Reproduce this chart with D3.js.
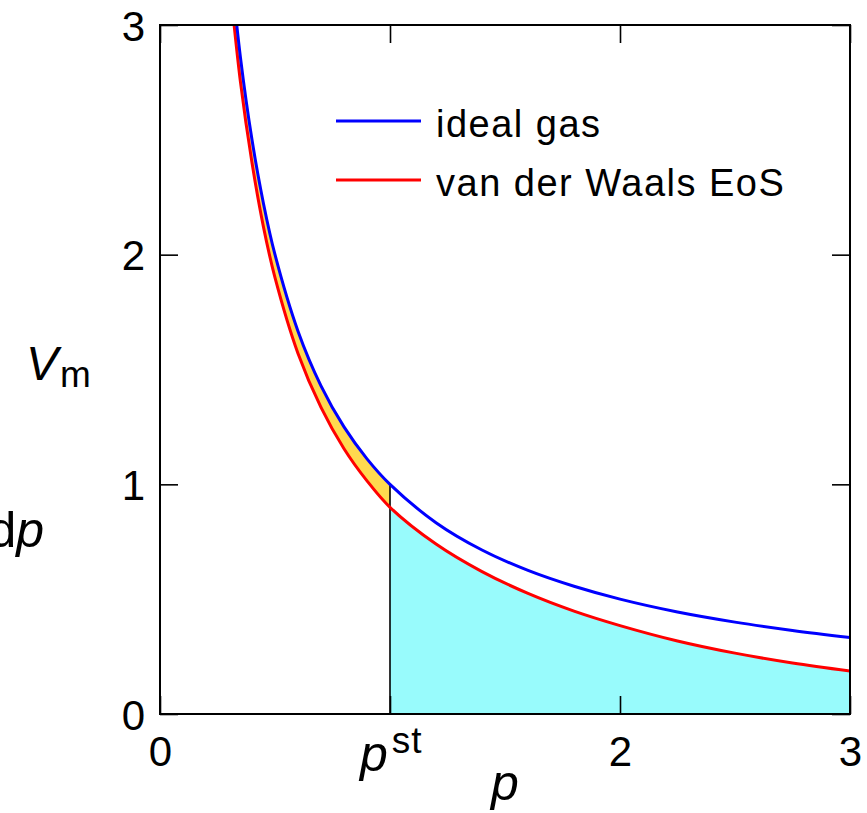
<!DOCTYPE html>
<html>
<head>
<meta charset="utf-8">
<script src="https://cdn.jsdelivr.net/npm/d3@7"></script>
<style>
  body { margin: 0; background: #fff; }
  text { font-family: "Liberation Sans", Arial, sans-serif; fill: #000; }
</style>
</head>
<body>
<div id="graph"></div>
<script>
// pressure samples (shared by both curves)
var pressure = [0.3, 0.35, 0.4, 0.45, 0.5, 0.6, 0.7, 0.8, 0.9, 1.0, 1.2, 1.4, 1.6, 1.8, 2.0, 2.25, 2.5, 2.75, 3.0];
// molar volume, ideal gas
var idealGas = [3.33, 2.857, 2.5, 2.222, 2.0, 1.667, 1.429, 1.25, 1.111, 1.0, 0.833, 0.714, 0.625, 0.556, 0.5, 0.444, 0.4, 0.364, 0.333];
// molar volume, van der Waals EoS
var vanDerWaals = [3.22, 2.75, 2.4, 2.12, 1.9, 1.57, 1.335, 1.155, 1.015, 0.9, 0.74, 0.62, 0.525, 0.448, 0.385, 0.318, 0.265, 0.222, 0.187];

var pStandard = 1.0;
var xTicks = [0, 1, 2, 3];
var xTickLabels = ["0", "", "2", "3"];
var yTicks = [0, 1, 2, 3];
var yTickLabels = ["0", "1", "2", "3"];
var seriesNames = ["ideal gas", "van der Waals EoS"];

var m = [25, 17, 99, 160]; // margins top right bottom left
var w = 690;
var h = 689;

var x = d3.scaleLinear().domain([0, 3]).range([0, w]);
var y = d3.scaleLinear().domain([0, 3]).range([h, 0]);

var pts = pressure.map(function(p, i) {
  return { p: p, ideal: idealGas[i], vdw: vanDerWaals[i] };
});

var svg = d3.select("#graph").append("svg")
  .attr("width", 867)
  .attr("height", 813);

svg.append("defs").append("clipPath")
  .attr("id", "plotclip")
  .append("rect")
  .attr("width", w)
  .attr("height", h);

var graph = svg.append("g")
  .attr("transform", "translate(" + m[3] + "," + m[0] + ")");

var plot = graph.append("g").attr("clip-path", "url(#plotclip)");

// yellow: between the curves up to p standard
var between = d3.area()
  .curve(d3.curveCatmullRom)
  .x(function(d) { return x(d.p); })
  .y0(function(d) { return y(d.vdw); })
  .y1(function(d) { return y(d.ideal); });

plot.append("path")
  .attr("d", between(pts.filter(function(d) { return d.p <= pStandard; })))
  .attr("fill", "#ffd94f");

// cyan: under the vdW curve from p standard
var under = d3.area()
  .curve(d3.curveCatmullRom)
  .x(function(d) { return x(d.p); })
  .y0(y(0))
  .y1(function(d) { return y(d.vdw); });

plot.append("path")
  .attr("d", under(pts.filter(function(d) { return d.p >= pStandard; })))
  .attr("fill", "#98fbfc");

plot.append("line")
  .attr("x1", x(pStandard)).attr("x2", x(pStandard))
  .attr("y1", y(0)).attr("y2", y(idealGas[pressure.indexOf(pStandard)]))
  .attr("stroke", "#000")
  .attr("stroke-width", 1.6);

var idealLine = d3.line()
  .curve(d3.curveCatmullRom)
  .x(function(d) { return x(d.p); })
  .y(function(d) { return y(d.ideal); });

var vdwLine = d3.line()
  .curve(d3.curveCatmullRom)
  .x(function(d) { return x(d.p); })
  .y(function(d) { return y(d.vdw); });

plot.append("path")
  .attr("d", vdwLine(pts))
  .attr("fill", "none")
  .attr("stroke", "#ff0000")
  .attr("stroke-width", 3);

plot.append("path")
  .attr("d", idealLine(pts))
  .attr("fill", "none")
  .attr("stroke", "#0000ff")
  .attr("stroke-width", 3);

// axes, ticks inward on all four sides
function styleAxis(g) {
  g.select(".domain").remove();
  g.selectAll(".tick line").attr("stroke-width", 1.6);
  g.selectAll(".tick text")
    .style("font-family", '"Liberation Sans", Arial, sans-serif')
    .style("font-size", "42px");
}

graph.append("g")
  .attr("transform", "translate(0," + h + ")")
  .call(d3.axisBottom(x).tickValues(xTicks).tickSize(-18).tickPadding(22)
    .tickFormat(function(d, i) { return xTickLabels[i]; }))
  .call(styleAxis);

graph.append("g")
  .call(d3.axisTop(x).tickValues(xTicks).tickSize(-18).tickFormat(""))
  .call(styleAxis);

graph.append("g")
  .call(d3.axisLeft(y).tickValues(yTicks).tickSize(-18).tickPadding(15)
    .tickFormat(function(d, i) { return yTickLabels[i]; }))
  .call(styleAxis)
  .selectAll(".tick text").attr("dy", "0.36em");

graph.append("g")
  .attr("transform", "translate(" + w + ",0)")
  .call(d3.axisRight(y).tickValues(yTicks).tickSize(-18).tickFormat(""))
  .call(styleAxis);

graph.append("rect")
  .attr("width", w)
  .attr("height", h)
  .attr("fill", "none")
  .attr("stroke", "#000")
  .attr("stroke-width", 2);

// p^st tick label
var pst = graph.append("text")
  .attr("x", x(pStandard) - 30)
  .attr("y", h + 57)
  .style("font-size", "50px");
pst.append("tspan").style("font-style", "italic").text("p");
pst.append("tspan").attr("dy", -18).attr("dx", 4)
  .style("font-size", "37px").style("letter-spacing", "1px").text("st");

// axis titles
svg.append("text")
  .attr("x", 505)
  .attr("y", 800)
  .attr("text-anchor", "middle")
  .style("font-size", "50px")
  .style("font-style", "italic")
  .text("p");

var vm = svg.append("text")
  .attr("x", 26)
  .attr("y", 380)
  .style("font-size", "48px");
vm.append("tspan").style("font-style", "italic").text("V");
vm.append("tspan").attr("dy", 7).attr("dx", 2).style("font-size", "37px").text("m");

var dp = svg.append("text")
  .attr("x", 44)
  .attr("y", 547)
  .attr("text-anchor", "end")
  .style("font-size", "50px");
dp.append("tspan").text("d");
dp.append("tspan").style("font-style", "italic").text("p");

// legend
var legend = graph.append("g").attr("transform", "translate(176,96)");
var legendColors = ["#0000ff", "#ff0000"];
seriesNames.forEach(function(name, i) {
  var row = legend.append("g").attr("transform", "translate(0," + (i * 59) + ")");
  row.append("line")
    .attr("x1", 0).attr("x2", 85)
    .attr("stroke", legendColors[i])
    .attr("stroke-width", 3);
  row.append("text")
    .attr("x", 100)
    .attr("y", 16)
    .style("font-size", "38px")
    .style("letter-spacing", "1.5px")
    .text(name);
});
</script>
</body>
</html>
